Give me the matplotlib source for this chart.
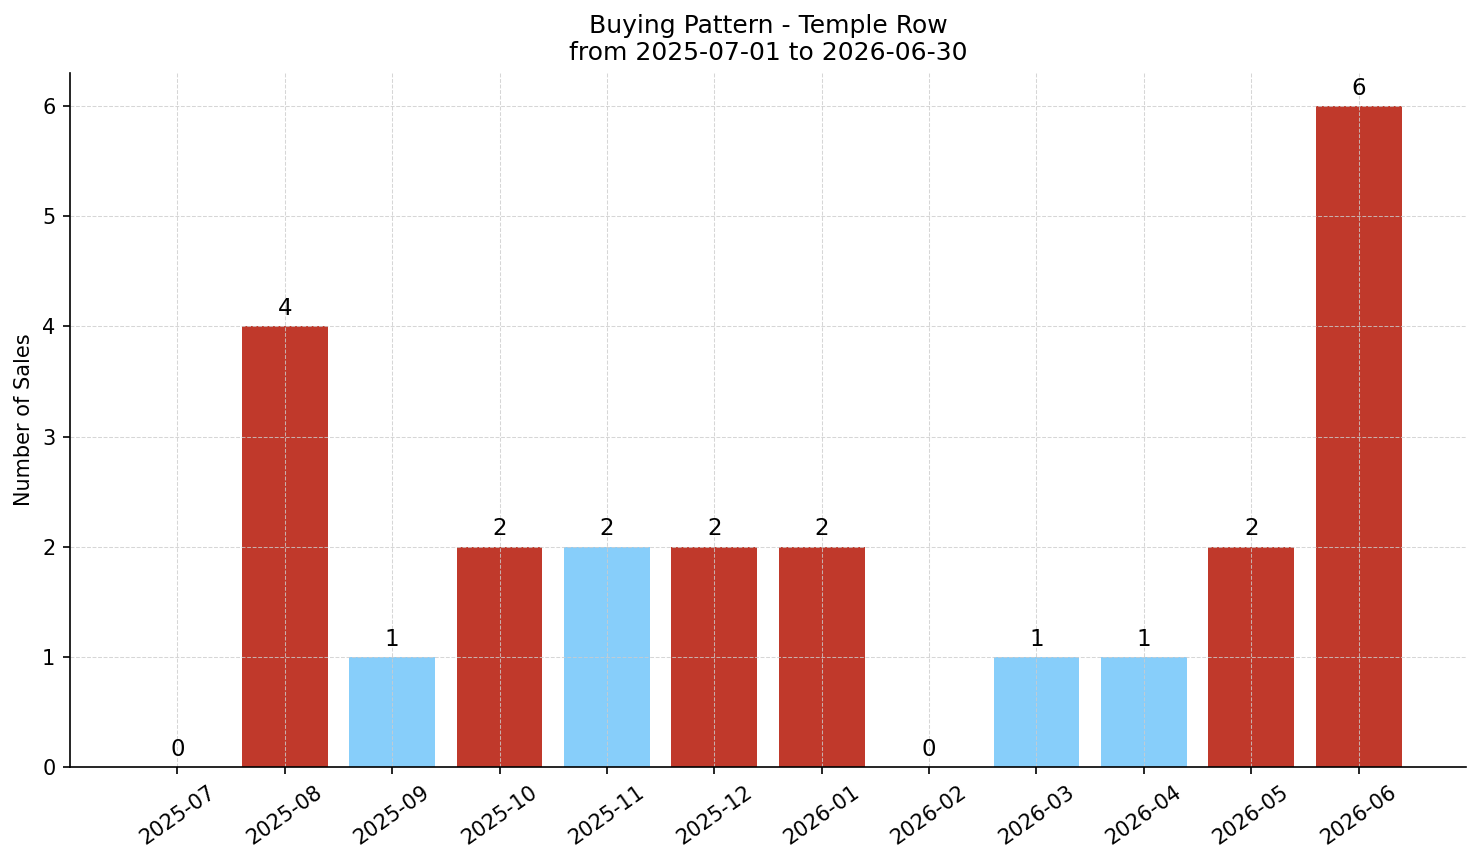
import matplotlib
matplotlib.use("Agg")
import matplotlib.pyplot as plt

months = ["2025-07", "2025-08", "2025-09", "2025-10", "2025-11", "2025-12",
          "2026-01", "2026-02", "2026-03", "2026-04", "2026-05", "2026-06"]
sales = [0, 4, 1, 2, 2, 2, 2, 0, 1, 1, 2, 6]
# red = busy month, blue = quiet month
is_high = [False, True, False, True, False, True, True, False, False, False, True, True]

RED = "#c0392b"
BLUE = "#87cefa"

fig = plt.figure(figsize=(1481 / 150, 863 / 150), dpi=150)
ax = fig.add_axes([70 / 1481, 1 - 767 / 863, (1466 - 70) / 1481, (767 - 73) / 863])

x = list(range(len(months)))
colors = [RED if h else BLUE for h in is_high]
bars = ax.bar(x, sales, width=0.8, color=colors)
ax.bar_label(bars, labels=[str(v) for v in sales], padding=3, fontsize=11)

ax.set_xticks(x)
ax.set_xticklabels(months, rotation=35)
ax.set_xlim(-1, len(months))
ax.set_ylim(0, max(sales) * 1.05)
ax.set_ylabel("Number of Sales", fontsize=10)
ax.set_title("Buying Pattern - Temple Row\nfrom 2025-07-01 to 2026-06-30", fontsize=12)

ax.grid(True, linestyle="--", color="#cccccc", linewidth=0.5, alpha=0.8)
ax.spines["top"].set_visible(False)
ax.spines["right"].set_visible(False)

fig.savefig("out.png", dpi=150)
